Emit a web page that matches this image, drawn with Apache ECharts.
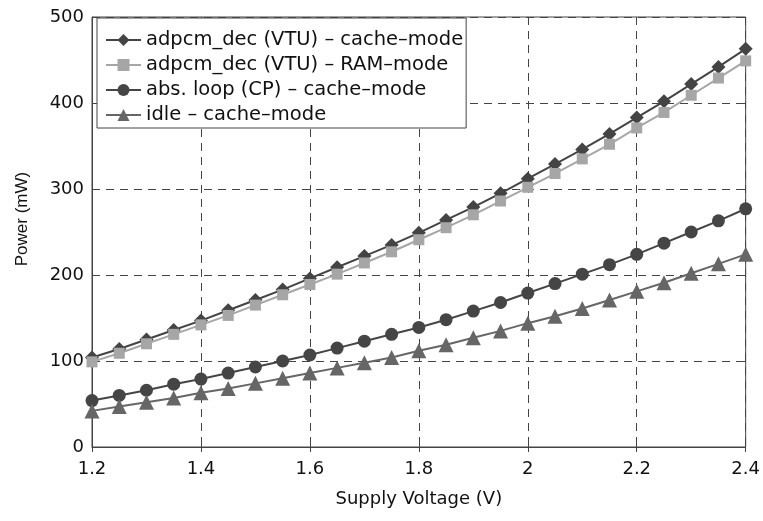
<!DOCTYPE html>
<html>
<head>
<meta charset="utf-8">
<script src="https://cdn.jsdelivr.net/npm/echarts@6/dist/echarts.min.js"></script>
<style>
  html, body { margin: 0; padding: 0; background: #fff; }
  #chart { width: 763px; height: 521px; }
</style>
</head>
<body>
<div id="chart"></div>
<script>
// supply voltage (V)
const voltage = [1.2, 1.25, 1.3, 1.35, 1.4, 1.45, 1.5, 1.55, 1.6, 1.65, 1.7, 1.75, 1.8,
  1.85, 1.9, 1.95, 2.0, 2.05, 2.1, 2.15, 2.2, 2.25, 2.3, 2.35, 2.4]

// power (mW)
const adpcmCache = [104, 114, 125, 136, 147, 159, 171, 183, 196, 209, 222, 235, 249,
  264, 279, 295, 312, 329, 346, 364, 383, 402, 422, 442, 463]
const adpcmRam = [99, 109, 120, 131, 142, 153, 165, 177, 189, 201, 214, 227, 241,
  255, 270, 286, 302, 318, 335, 352, 371, 389, 409, 429, 449]
const absLoop = [54, 60, 66, 73, 79, 86, 93, 100, 107, 115, 123, 131, 139,
  148, 158, 168, 179, 190, 201, 212, 224, 237, 250, 263, 277]
const idle = [42, 47, 52, 57, 63, 68, 74, 80, 86, 92, 98, 104, 112,
  119, 127, 135, 144, 152, 161, 171, 181, 191, 202, 213, 224]

const seriesNames = [
  'adpcm_dec (VTU) \u2013 cache\u2013mode',
  'adpcm_dec (VTU) \u2013 RAM\u2013mode',
  'abs. loop (CP) \u2013 cache\u2013mode',
  'idle \u2013 cache\u2013mode'
]

const font = 'DejaVu Sans, sans-serif'
const titleFont = 'Liberation Sans, Arial, sans-serif'
const chart = echarts.init(document.getElementById('chart'))

function pairs(ys) {
  return voltage.map((v, i) => [v, ys[i]])
}

function makeSeries(name, ys, symbol, size, color) {
  return {
    name,
    type: 'line',
    data: pairs(ys),
    symbol,
    symbolSize: size,
    showAllSymbol: true,
    lineStyle: { color, width: 2 },
    itemStyle: { color },
    animation: false
  }
}

// top / right axes only carry the inner ticks of the box
const hiddenAxis = {
  axisLine: { show: false },
  axisLabel: { show: false },
  splitLine: { show: false },
  axisTick: { show: true, inside: true, length: 5, lineStyle: { color: '#444' } }
}

chart.setOption({
  animation: false,
  grid: { left: 92, right: 16, top: 17, bottom: 74, show: true, borderColor: '#444', borderWidth: 1 },
  legend: {
    orient: 'vertical',
    left: 97,
    top: 18,
    itemWidth: 35,
    itemHeight: 15,
    itemGap: 5,
    padding: [12, 3, 3, 8],
    borderColor: '#444',
    borderWidth: 1,
    backgroundColor: '#fff',
    textStyle: { fontFamily: font, fontSize: 19.5, color: '#111' },
    data: seriesNames
  },
  xAxis: [{
    type: 'value',
    min: 1.2,
    max: 2.4,
    interval: 0.2,
    name: 'Supply Voltage (V)',
    nameLocation: 'middle',
    nameGap: 43,
    nameTextStyle: { fontFamily: font, fontSize: 18, color: '#111' },
    axisLine: { lineStyle: { color: '#444' } },
    axisTick: { inside: true, length: 5, lineStyle: { color: '#444' } },
    axisLabel: { fontFamily: font, fontSize: 18, color: '#111', margin: 13 },
    splitLine: { show: true, lineStyle: { type: [8, 6], color: '#444', width: 1 } }
  }, Object.assign({ type: 'value', position: 'top', min: 1.2, max: 2.4, interval: 0.2 }, hiddenAxis)],
  yAxis: [{
    type: 'value',
    min: 0,
    max: 500,
    interval: 100,
    name: 'Power (mW)',
    nameLocation: 'middle',
    nameGap: 61,
    nameTextStyle: { fontFamily: titleFont, fontSize: 17, color: '#111', padding: [0, 0, 0, 26] },
    axisLine: { show: true, lineStyle: { color: '#444' } },
    axisTick: { show: true, inside: true, length: 5, lineStyle: { color: '#444' } },
    axisLabel: { fontFamily: font, fontSize: 18, color: '#111', margin: 8 },
    splitLine: { show: true, lineStyle: { type: [8, 6], color: '#444', width: 1 } }
  }, Object.assign({ type: 'value', position: 'right', min: 0, max: 500, interval: 100 }, hiddenAxis)],
  series: [
    makeSeries(seriesNames[0], adpcmCache, 'diamond', 14, '#444444'),
    makeSeries(seriesNames[1], adpcmRam, 'rect', 11, '#a6a6a6'),
    makeSeries(seriesNames[2], absLoop, 'circle', 13, '#454545'),
    makeSeries(seriesNames[3], idle, 'triangle', 15, '#666666')
  ]
})
</script>
</body>
</html>
